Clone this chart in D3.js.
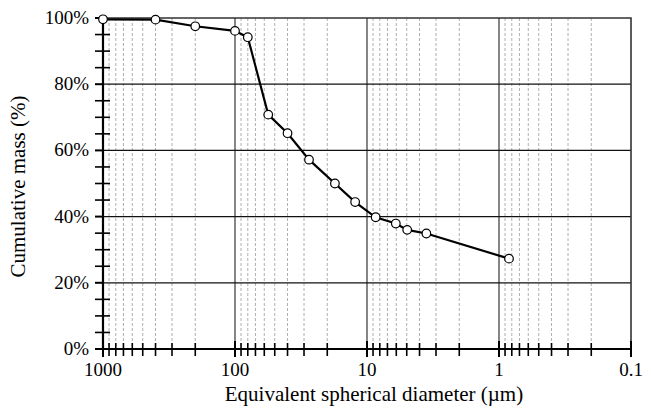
<!DOCTYPE html>
<html>
<head>
<meta charset="utf-8">
<script src="https://cdn.jsdelivr.net/npm/d3@7"></script>
<style>
  body { margin: 0; background: #fff; }
</style>
</head>
<body>
<div id="chart"></div>
<script>
// diameters (µm) and cumulative mass (%)
var diameters = [1000, 400, 200, 100, 80, 56, 40, 27.5, 17.5, 12.3, 8.6, 6.05, 4.96, 3.55, 0.84];
var cumMass   = [99.6, 99.5, 97.5, 96.1, 94.2, 70.8, 65.2, 57.2, 50.0, 44.4, 39.8, 37.9, 36.0, 34.9, 27.3];
var xMajorTicks = [1000, 100, 10, 1, 0.1];
var yMajorTicks = [0, 20, 40, 60, 80, 100];

var margin = {top: 18, right: 20, bottom: 64, left: 103},
    width = 631 - margin.left,
    height = 349 - margin.top;

var svg = d3.select("#chart")
  .append("svg")
    .attr("width", 651)
    .attr("height", 413)
    .attr("font-family", "'Liberation Serif', 'Times New Roman', Times, serif")
  .append("g")
    .attr("transform", "translate(" + margin.left + "," + margin.top + ")");

var x = d3.scaleLog()
    .domain([1000, 0.1])
    .range([0, width]);

var y = d3.scaleLinear()
    .domain([0, 100])
    .range([height, 0]);

// minor log ticks (2..9 of every decade)
var xMinor = [];
[100, 10, 1, 0.1].forEach(function(base) {
  for (var k = 2; k <= 9; k++) xMinor.push(base * k);
});
var yMinor = d3.range(0, 101, 5).filter(function(v) { return v % 20 !== 0; });

// dashed minor grid
svg.selectAll(".vminor")
  .data(xMinor)
  .enter().append("line")
    .attr("x1", d => x(d)).attr("x2", d => x(d))
    .attr("y1", 0).attr("y2", height)
    .attr("stroke", "#9a9a9a")
    .attr("stroke-width", 0.8)
    .attr("stroke-dasharray", "3,2");

// major vertical grid
svg.selectAll(".vmajor")
  .data([100, 10, 1])
  .enter().append("line")
    .attr("x1", d => x(d)).attr("x2", d => x(d))
    .attr("y1", 0).attr("y2", height)
    .attr("stroke", "#444")
    .attr("stroke-width", 1.3);

// horizontal grid
svg.selectAll(".hmajor")
  .data([20, 40, 60, 80])
  .enter().append("line")
    .attr("x1", 0).attr("x2", width)
    .attr("y1", d => y(d)).attr("y2", d => y(d))
    .attr("stroke", "#111")
    .attr("stroke-width", 1.2);

// frame top / right
svg.append("path")
  .attr("d", "M0,0H" + width + "V" + height)
  .attr("fill", "none")
  .attr("stroke", "#333")
  .attr("stroke-width", 1.6);

// X axis
var xAxis = svg.append("g")
  .attr("transform", "translate(0," + height + ")");
xAxis.append("line")
  .attr("x1", 0).attr("x2", width)
  .attr("stroke", "#000").attr("stroke-width", 2.2);
xAxis.selectAll(".xt")
  .data(xMinor)
  .enter().append("line")
    .attr("x1", d => x(d)).attr("x2", d => x(d))
    .attr("y1", -6).attr("y2", 7)
    .attr("stroke", "#000").attr("stroke-width", 1.6);
xAxis.selectAll(".xT")
  .data(xMajorTicks)
  .enter().append("line")
    .attr("x1", d => x(d)).attr("x2", d => x(d))
    .attr("y1", -8).attr("y2", 8)
    .attr("stroke", "#000").attr("stroke-width", 2);
xAxis.selectAll(".xl")
  .data(xMajorTicks)
  .enter().append("text")
    .attr("x", d => x(d))
    .attr("y", 27)
    .attr("text-anchor", "middle")
    .attr("font-size", 19)
    .text(d => d);

// Y axis
var yAxis = svg.append("g");
yAxis.append("line")
  .attr("y1", 0).attr("y2", height)
  .attr("stroke", "#000").attr("stroke-width", 2.2);
yAxis.selectAll(".yt")
  .data(yMinor)
  .enter().append("line")
    .attr("x1", -8).attr("x2", 7)
    .attr("y1", d => y(d)).attr("y2", d => y(d))
    .attr("stroke", "#000").attr("stroke-width", 1.6);
yAxis.selectAll(".yT")
  .data(yMajorTicks)
  .enter().append("line")
    .attr("x1", -8).attr("x2", 0)
    .attr("y1", d => y(d)).attr("y2", d => y(d))
    .attr("stroke", "#000").attr("stroke-width", 2);
yAxis.selectAll(".yl")
  .data(yMajorTicks)
  .enter().append("text")
    .attr("x", -14)
    .attr("y", d => y(d) + 6)
    .attr("text-anchor", "end")
    .attr("font-size", 19)
    .text(d => d + "%");

// data line
var data = diameters.map(function(d, i) { return {d: d, m: cumMass[i]}; });
svg.append("path")
  .datum(data)
  .attr("fill", "none")
  .attr("stroke", "#000")
  .attr("stroke-width", 2.2)
  .attr("d", d3.line().x(p => x(p.d)).y(p => y(p.m)));

svg.selectAll(".pt")
  .data(data)
  .enter().append("circle")
    .attr("cx", p => x(p.d))
    .attr("cy", p => y(p.m))
    .attr("r", 4.3)
    .attr("fill", "#fff")
    .attr("stroke", "#000")
    .attr("stroke-width", 1.2);

// axis titles
svg.append("text")
  .attr("x", width / 2 + 7)
  .attr("y", height + 52)
  .attr("text-anchor", "middle")
  .attr("font-size", 21)
  .text("Equivalent spherical diameter (µm)");

svg.append("text")
  .attr("transform", "translate(" + (-78) + "," + (height / 2 + 3) + ")rotate(-90)")
  .attr("text-anchor", "middle")
  .attr("font-size", 21)
  .text("Cumulative mass (%)");
</script>
</body>
</html>
